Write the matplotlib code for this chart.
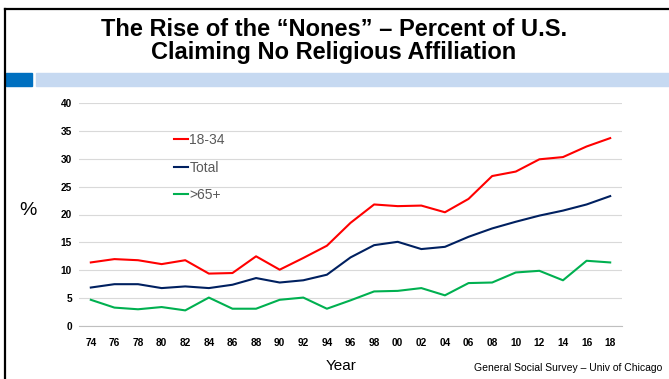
import matplotlib.pyplot as plt
from matplotlib.patches import Rectangle
from matplotlib.lines import Line2D

plt.rcParams['font.family'] = ['Liberation Sans', 'DejaVu Sans']

# data
years = ['74', '76', '78', '80', '82', '84', '86', '88', '90', '92', '94', '96',
         '98', '00', '02', '04', '06', '08', '10', '12', '14', '16', '18']
young = [11.4, 12.0, 11.8, 11.1, 11.8, 9.4, 9.5, 12.5, 10.1, 12.2, 14.4, 18.5,
         21.8, 21.5, 21.6, 20.4, 22.8, 26.9, 27.7, 29.9, 30.3, 32.2, 33.7]
total = [6.9, 7.5, 7.5, 6.8, 7.1, 6.8, 7.4, 8.6, 7.8, 8.2, 9.2, 12.3,
         14.5, 15.1, 13.8, 14.2, 16.0, 17.5, 18.7, 19.8, 20.7, 21.8, 23.3]
old = [4.7, 3.3, 3.0, 3.4, 2.8, 5.1, 3.1, 3.1, 4.7, 5.1, 3.1, 4.6,
       6.2, 6.3, 6.8, 5.5, 7.7, 7.8, 9.6, 9.9, 8.2, 11.7, 11.4]
yticks = [0, 5, 10, 15, 20, 25, 30, 35, 40]

W, H = 669, 379
fig = plt.figure(figsize=(W / 100, H / 100), dpi=100)

# slide frame and header bars
fig.add_artist(Line2D([5 / W, 5 / W], [0, 1 - 9 / H], color='black', lw=1.6))
fig.add_artist(Line2D([5 / W, 1], [1 - 9 / H, 1 - 9 / H], color='black', lw=1.6))
fig.add_artist(Rectangle((6 / W, 1 - 86 / H), 26 / W, 13 / H, color='#0070C0',
                         transform=fig.transFigure))
fig.add_artist(Rectangle((36 / W, 1 - 86 / H), 1 - 36 / W, 13 / H, color='#C6D9F1',
                         transform=fig.transFigure))

fig.text(334 / W, 1 - 41 / H, 'The Rise of the \u201cNones\u201d \u2013 Percent of U.S.\nClaiming No Religious Affiliation',
         ha='center', va='center', fontsize=17, fontweight='bold', linespacing=1.05)

ax = fig.add_axes([79 / W, 1 - 326 / H, 543 / W, 223 / H])
x = range(len(years))
ax.plot(x, young, color='#FF0000', lw=1.5, label='18-34')
ax.plot(x, total, color='#002060', lw=1.5, label='Total')
ax.plot(x, old, color='#00B050', lw=1.5, label='>65+')

ax.set_xlim(-0.5, len(years) - 0.5)
ax.set_ylim(0, 40)
ax.set_yticks(yticks)
ax.set_xticks(list(x))
ax.set_xticklabels(years)
ax.grid(axis='y', color='#D9D9D9', lw=0.8)
ax.set_axisbelow(True)
for s in ['top', 'right', 'left']:
    ax.spines[s].set_visible(False)
ax.spines['bottom'].set_color('#BFBFBF')
ax.tick_params(length=0, labelsize=7.3, pad=9)
for lab in ax.get_xticklabels() + ax.get_yticklabels():
    lab.set_fontweight('bold')
ax.tick_params(axis='y', pad=5)

leg = ax.legend(loc='upper left', bbox_to_anchor=(0.152, 0.92), frameon=False,
                handlelength=1.0, handletextpad=0.1, labelspacing=0.95, fontsize=10)
for t in leg.get_texts():
    t.set_color('#595959')

fig.text(28 / W, 1 - 210 / H, '%', ha='center', va='center', fontsize=14)
fig.text(341 / W, 1 - 366 / H, 'Year', ha='center', va='center', fontsize=11)
fig.text(662 / W, 1 - 368 / H, 'General Social Survey \u2013 Univ of Chicago',
         ha='right', va='center', fontsize=7.5)

fig.savefig('out.png', dpi=100)
